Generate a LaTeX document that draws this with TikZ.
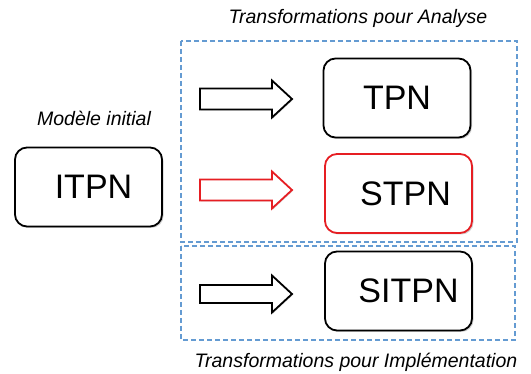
\documentclass[tikz,border=0pt]{standalone}
\usepackage{fontspec}
\setmainfont{Liberation Sans}
\usetikzlibrary{shadows}
\definecolor{dashblue}{RGB}{100,155,210}
\definecolor{redline}{RGB}{230,30,35}
\tikzset{
  model/.style={draw=black, line width=1.8pt, rounded corners=12pt, fill=white,
    minimum width=147pt, minimum height=79pt, inner sep=0pt,
    font=\fontsize{34}{38}\selectfont,
    drop shadow={shadow xshift=1.5pt, shadow yshift=-1.5pt, opacity=0.3, fill=black!60}},
  bigarrow/.style={draw=black, line width=1.8pt, fill=white, line join=miter,
    drop shadow={shadow xshift=1pt, shadow yshift=-1pt, opacity=0.25, fill=black!60}},
  zone/.style={draw=dashblue, line width=1.2pt, dash pattern=on 5pt off 3pt},
  caption/.style={font=\itshape\fontsize{19.5}{22}\selectfont, inner sep=0pt}
}
\newcommand{\fatarrow}[4]{% style, x, y, half-shaft
  \path[#1] (#2,#3-#4) -- (#2+72,#3-#4) -- (#2+72,#3-18.5) -- (#2+92,#3)
   -- (#2+72,#3+18.5) -- (#2+72,#3+#4) -- (#2,#3+#4) -- cycle;}
\begin{document}
\begin{tikzpicture}[x=1pt,y=-1pt]
\useasboundingbox (0,0) rectangle (531,374);
% zones
\draw[zone] (181,41) rectangle (517,242);
\draw[zone] (181,246) rectangle (515,340);
% captions
\node[caption] (tA) at (358,18) {Transformations pour Analyse};
\node[caption] (tI) at (356,362) {Transformations pour Implémentation};
\node[caption] (mi) at (94,118) {Modèle initial};
% models
\node[model] (itpn) at (88.5,187) {\hspace*{10pt}ITPN};
\node[model] (tpn) at (397,98) {TPN};
\node[model, draw=redline] (stpn) at (398.5,193.5) {\hspace*{14pt}STPN};
\node[model] (sitpn) at (398.5,291) {\hspace*{20pt}SITPN};
% arrows
\fatarrow{bigarrow}{200}{99}{10.5}
\fatarrow{bigarrow, draw=redline}{200}{190}{10.5}
\fatarrow{bigarrow}{200}{294}{9}
\end{tikzpicture}
\end{document}
